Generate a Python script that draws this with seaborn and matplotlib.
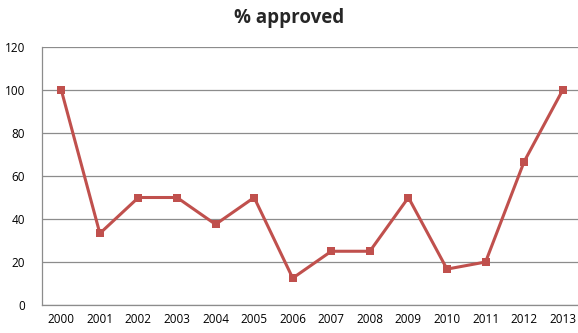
import matplotlib
matplotlib.use("Agg")
import matplotlib.pyplot as plt
import seaborn as sns
import pandas as pd

years = ["2000", "2001", "2002", "2003", "2004", "2005", "2006", "2007",
         "2008", "2009", "2010", "2011", "2012", "2013"]
approved = [100, 33.3, 50, 50, 37.5, 50, 12.5, 25, 25, 50, 16.7, 20, 66.7, 100]
yticks = [0, 20, 40, 60, 80, 100, 120]

sns.set_theme(style="white")
plt.rcParams['font.family'] = ['Open Sans', 'DejaVu Sans']

df = pd.DataFrame({"year": years, "pct": approved})
df["pos"] = range(len(years))

fig = plt.figure(figsize=(5.78, 3.33), dpi=100)
ax = fig.add_axes([42/578, 1 - 305/333, 540/578, (305-47)/333])

sns.lineplot(data=df, x="pos", y="pct", ax=ax, color="#C0504D", linewidth=2.2,
             marker="s", markersize=5.5, markeredgewidth=0, markerfacecolor="#C0504D",
             clip_on=False)

ax.set_xlim(-0.5, len(years) - 0.5)
ax.set_ylim(0, 120)
ax.set_yticks(yticks)
ax.set_yticklabels([str(t) for t in yticks])
ax.set_xticks(range(len(years)))
ax.set_xticklabels(years)
ax.yaxis.grid(True, color="#8C8C8C", linewidth=0.9)
ax.xaxis.grid(False)
ax.set_axisbelow(True)
for s in ["top", "right"]:
    ax.spines[s].set_visible(False)
for s in ["left", "bottom"]:
    ax.spines[s].set_color("#8C8C8C")
    ax.spines[s].set_linewidth(0.9)
ax.tick_params(axis="both", length=0, labelsize=8.5, colors="black")
ax.tick_params(axis="y", pad=12)
ax.tick_params(axis="x", pad=6)
ax.set_xlabel("")
ax.set_ylabel("")
fig.text(0.5, 1 - 18/333, "% approved", ha="center", va="center",
         fontsize=13.5, fontweight="bold")

fig.savefig("out.png", dpi=100)
